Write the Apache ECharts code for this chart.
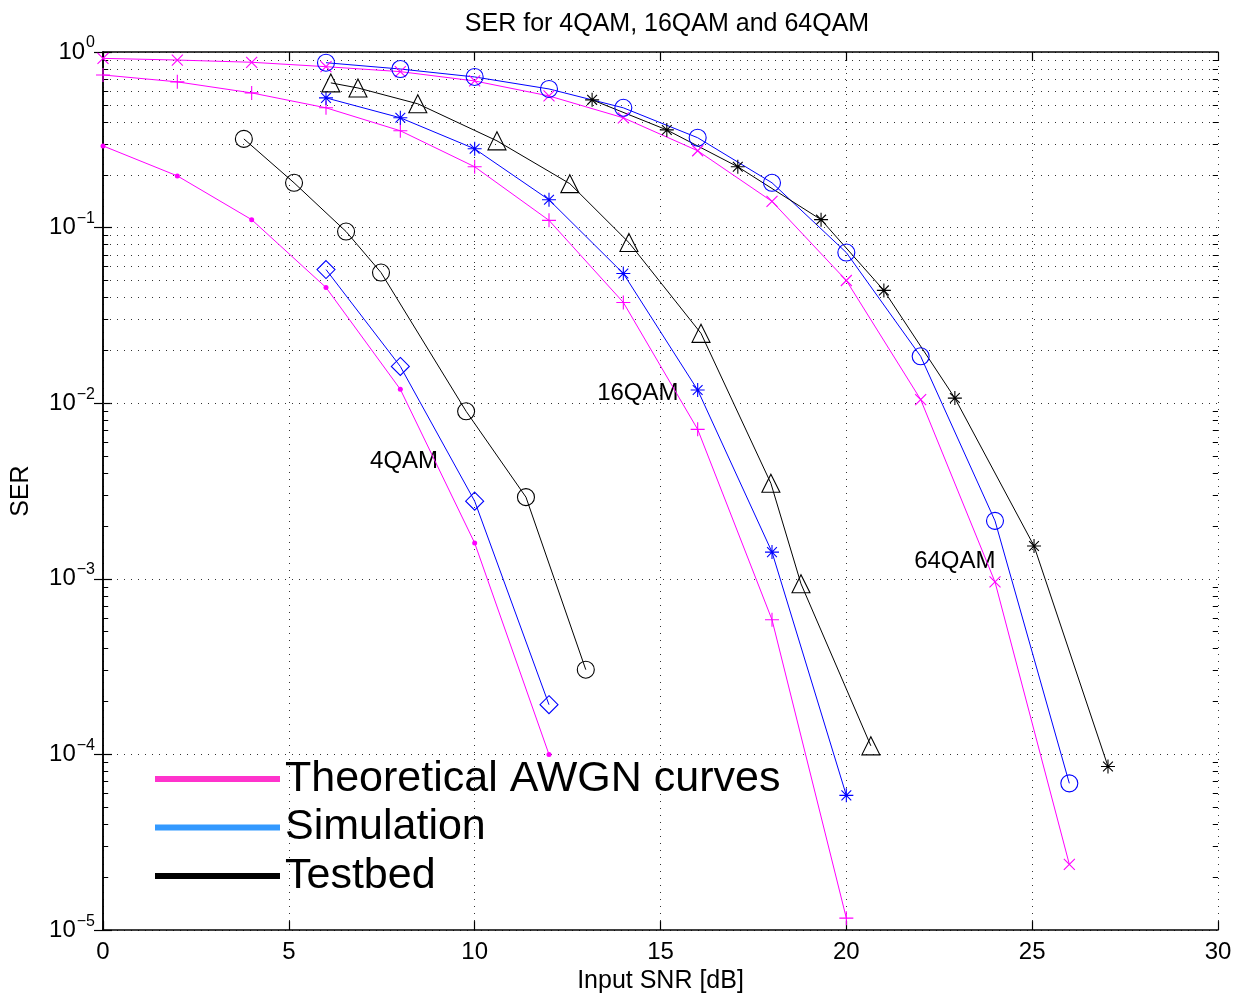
<!DOCTYPE html>
<html><head><meta charset="utf-8">
<script src="https://cdn.jsdelivr.net/npm/echarts@6/dist/echarts.min.js"></script>
<style>html,body{margin:0;padding:0;background:#fff}#c{width:1236px;height:999px}</style>
</head><body><div id="c"></div>
<script>
// ---- data ----
const snrTheory4 = [0, 2, 4, 6, 8, 10, 12];
const serTheory4 = [0.292, 0.197, 0.111, 0.0456, 0.012, 0.0016, 1.0e-4];
const snrSim4 = [6, 8, 10, 12];
const serSim4 = [0.0577, 0.0162, 0.00277, 1.92e-4];
const snrTest4 = [3.79, 5.14, 6.54, 7.48, 9.77, 11.38, 12.99];
const serTest4 = [0.32, 0.18, 0.095, 0.0555, 0.009, 0.00292, 3.04e-4];

const snrTheory16 = [0, 2, 4, 6, 8, 10, 12, 14, 16, 18, 20];
const serTheory16 = [0.74, 0.676, 0.585, 0.481, 0.356, 0.222, 0.110, 0.0375, 0.0071, 5.85e-4, 1.17e-5];
const snrSim16 = [6, 8, 10, 12, 14, 16, 18, 20];
const serSim16 = [0.548, 0.422, 0.281, 0.144, 0.0548, 0.0119, 0.00142, 5.85e-5];
const snrTest16 = [6.13, 6.86, 8.47, 10.6, 12.56, 14.15, 16.09, 17.97, 18.78, 20.66];
const serTest16 = [0.667, 0.624, 0.507, 0.312, 0.178, 0.0822, 0.025, 0.0035, 9.37e-4, 1.12e-4];

const snrTheory64 = [0, 2, 4, 6, 8, 10, 12, 14, 16, 18, 20, 22, 24, 26];
const serTheory64 = [0.92, 0.90, 0.874, 0.825, 0.773, 0.684, 0.562, 0.422, 0.274, 0.141, 0.050, 0.0105, 9.6e-4, 2.37e-5];
const snrSim64 = [6, 8, 10, 12, 14, 16, 18, 20, 22, 24, 26];
const serSim64 = [0.869, 0.80, 0.721, 0.616, 0.481, 0.325, 0.180, 0.0721, 0.0185, 0.00214, 6.85e-5];
const snrTest64 = [13.16, 15.17, 17.08, 19.32, 21.01, 22.92, 25.05, 27.04];
const serTest64 = [0.534, 0.36, 0.222, 0.111, 0.0439, 0.0107, 0.00154, 8.55e-5];

const annotTexts = ['4QAM', '16QAM', '64QAM'];
const annotSnr = [8.1, 14.39, 22.92];
const annotSer = [0.00468, 0.0114, 0.00125];

const legendNames = ['Theoretical AWGN curves', 'Simulation', 'Testbed'];
const xTicks = [0, 5, 10, 15, 20, 25, 30];

// ---- helpers ----
const zip = (xs, ys) => xs.map((x, i) => [x, ys[i]]);
const MAG = '#ff00ff', BLU = '#0000ff', BLK = '#000000';
const FONT = 'Liberation Sans, Arial, sans-serif';
const PLUS = 'path://M5,0L5,10M0,5L10,5';
const CROSS = 'path://M0,0L10,10M0,10L10,0';
const STAR = 'path://M5,0L5,10M0,5L10,5M1.5,1.5L8.5,8.5M1.5,8.5L8.5,1.5';

function mk(name, data, color, symbol, size, filled) {
  return {
    type: 'line', name, data, symbol, symbolSize: size,
    lineStyle: { color, width: 1 },
    itemStyle: filled ? { color, borderColor: color, borderWidth: 0 }
                      : { color: 'rgba(0,0,0,0)', borderColor: color, borderWidth: 1.1 },
    emphasis: { disabled: true }, z: 5
  };
}

// minor grid lines & minor ticks
const minorVals = [];
for (const d of [-5, -4, -3, -2, -1]) for (let m = 2; m <= 9; m++) minorVals.push(m * Math.pow(10, d));
const dotted = { type: [1, 6], color: '#333', width: 1 };
const mlData = [];
minorVals.forEach(v => mlData.push({ yAxis: v, lineStyle: dotted }));
minorVals.forEach(v => {
  mlData.push([{ coord: [0, v], lineStyle: { color: '#000', width: 1, type: 'solid' } }, { coord: [0.14, v] }]);
  mlData.push([{ coord: [29.86, v], lineStyle: { color: '#000', width: 1, type: 'solid' } }, { coord: [30, v] }]);
});

const ylabel = v => {
  const e = Math.round(Math.log10(v));
  return '{a|10}{e|' + (e < 0 ? '\u2212' + (-e) : e) + '}';
};
const yRich = {
  a: { fontSize: 24, fontFamily: FONT, color: '#000' },
  e: { fontSize: 16, fontFamily: FONT, color: '#000', verticalAlign: 'top', padding: [0, 0, 18, 1] }
};

const option = {
  animation: false,
  backgroundColor: '#fff',
  textStyle: { fontFamily: FONT },
  title: {
    text: 'SER for 4QAM, 16QAM and 64QAM', left: 662, top: 7, textAlign: 'center',
    textStyle: { fontSize: 25, fontWeight: 'normal', color: '#000', fontFamily: FONT }
  },
  grid: { left: 103, right: 18, top: 52, bottom: 68, containLabel: false },
  legend: {
    orient: 'vertical', left: 155, top: 757, padding: 0, itemGap: 4.5, itemWidth: 125, itemHeight: 6,
    selectedMode: false,
    textStyle: { fontSize: 43, color: '#000', fontFamily: FONT, lineHeight: 44 },
    data: [
      { name: legendNames[0], icon: 'rect', itemStyle: { color: '#ff33cc', borderWidth: 0 } },
      { name: legendNames[1], icon: 'rect', itemStyle: { color: '#3399ff', borderWidth: 0 } },
      { name: legendNames[2], icon: 'rect', itemStyle: { color: '#000', borderWidth: 0 } }
    ]
  },
  xAxis: [{
    type: 'value', min: 0, max: 30, interval: 5, position: 'bottom',
    name: 'Input SNR [dB]', nameLocation: 'middle', nameGap: 38,
    nameTextStyle: { fontSize: 25, color: '#000', fontFamily: FONT },
    axisLine: { lineStyle: { color: '#000', width: 1.5 } },
    axisTick: { inside: true, length: 9, lineStyle: { color: '#000', width: 1.2 } },
    axisLabel: { fontSize: 24, color: '#000', margin: 10, fontFamily: FONT, formatter: v => xTicks.includes(v) ? String(v) : '' },
    splitLine: { show: true, lineStyle: dotted }
  }, {
    type: 'value', min: 0, max: 30, interval: 5, position: 'top',
    axisLine: { lineStyle: { color: '#000', width: 1.5 } },
    axisTick: { inside: true, length: 9, lineStyle: { color: '#000', width: 1.2 } },
    axisLabel: { show: false }, splitLine: { show: false }
  }],
  yAxis: [{
    type: 'log', logBase: 10, min: 1e-5, max: 1, interval: 1, position: 'left',
    name: 'SER', nameLocation: 'middle', nameGap: 69,
    nameTextStyle: { fontSize: 25, color: '#000', fontFamily: FONT },
    axisLine: { show: true, lineStyle: { color: '#000', width: 1.5 } },
    axisTick: { inside: true, length: 9, lineStyle: { color: '#000', width: 1.2 } },
    axisLabel: { formatter: ylabel, rich: yRich, margin: 8 },
    splitLine: { show: true, lineStyle: dotted }
  }, {
    type: 'log', logBase: 10, min: 1e-5, max: 1, interval: 1, position: 'right',
    axisLine: { show: true, lineStyle: { color: '#000', width: 1.5 } },
    axisTick: { inside: true, length: 9, lineStyle: { color: '#000', width: 1.2 } },
    axisLabel: { show: false }, splitLine: { show: false }
  }],
  series: [
    {
      type: 'scatter', name: 'annot', symbolSize: 0, silent: true, z: 2,
      itemStyle: { opacity: 1 },
      data: annotTexts.map((t, i) => [annotSnr[i], annotSer[i], t]),
      label: { show: true, position: 'inside', opacity: 1, formatter: p => p.value[2], fontSize: 24, color: '#000', textBorderWidth: 0, fontFamily: FONT },
      markLine: { silent: true, symbol: ['none', 'none'], label: { show: false }, data: mlData, z: 1 }
    },
    mk(legendNames[0], zip(snrTheory4, serTheory4), MAG, 'circle', 5, true),
    mk(legendNames[0], zip(snrTheory16, serTheory16), MAG, PLUS, 14, false),
    mk(legendNames[0], zip(snrTheory64, serTheory64), MAG, CROSS, 11, false),
    mk(legendNames[1], zip(snrSim4, serSim4), BLU, 'diamond', 18, false),
    mk(legendNames[1], zip(snrSim16, serSim16), BLU, STAR, 14, false),
    mk(legendNames[1], zip(snrSim64, serSim64), BLU, 'circle', 17, false),
    mk(legendNames[2], zip(snrTest4, serTest4), BLK, 'circle', 17, false),
    mk(legendNames[2], zip(snrTest16, serTest16), BLK, 'triangle', 18, false),
    mk(legendNames[2], zip(snrTest64, serTest64), BLK, STAR, 14, false)
  ]
};
const chart = echarts.init(document.getElementById('c'), null, { renderer: 'canvas' });
chart.setOption(option);
</script></body></html>
